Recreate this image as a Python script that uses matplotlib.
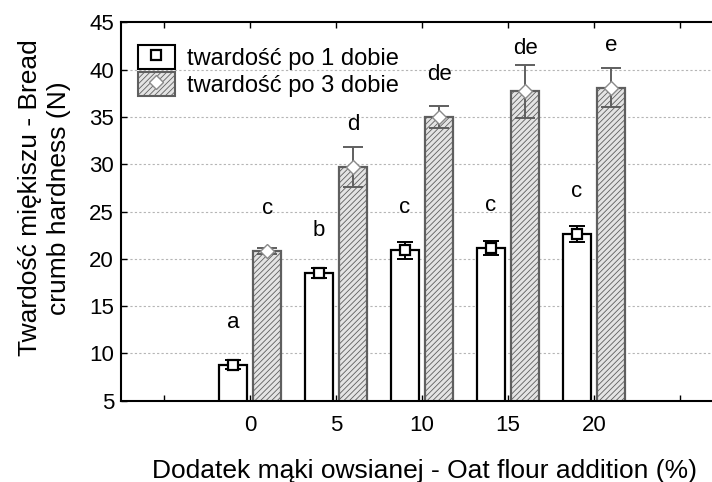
import numpy as np
import matplotlib
matplotlib.use("Agg")
import matplotlib.pyplot as plt
from matplotlib.patches import Patch
from matplotlib.lines import Line2D
from matplotlib.legend_handler import HandlerTuple

plt.rcParams['font.family'] = ['Liberation Sans', 'DejaVu Sans']

# dane
dodatek = [0, 5, 10, 15, 20]
dzien1 = [8.8, 18.5, 20.9, 21.1, 22.6]
dzien1_err = [0.5, 0.5, 0.9, 0.75, 0.85]
dzien3 = [20.8, 29.7, 35.0, 37.7, 38.1]
dzien3_err = [0.3, 2.1, 1.15, 2.8, 2.05]
litery1 = ['a', 'b', 'c', 'c', 'c']
litery3 = ['c', 'd', 'de', 'de', 'e']

x = np.array(dodatek, dtype=float)
szer = 1.65
sz = '#5f5f5f'

plt.rcParams['hatch.color'] = '#8a8a8a'
plt.rcParams['hatch.linewidth'] = 0.6

fig = plt.figure(figsize=(7.12, 4.82), dpi=100)
# os wychodzi poza prawa krawedz, jak w oryginale
ax = fig.add_axes([0.170, 0.1687, 0.906, 0.785])

ax.bar(x - 1.0, dzien1, width=szer, color='white', edgecolor='black',
       linewidth=1.6, zorder=2)
ax.bar(x + 1.0, dzien3, width=szer, color='#e4e4e4', edgecolor=sz,
       hatch='//////', linewidth=1.6, zorder=2)

ax.errorbar(x - 1.0, dzien1, yerr=dzien1_err, fmt='none', ecolor='black',
            elinewidth=1.4, capsize=6, capthick=1.4, zorder=3)
ax.errorbar(x + 1.0, dzien3, yerr=dzien3_err, fmt='none', ecolor=sz,
            elinewidth=1.4, capsize=7, capthick=1.4, zorder=3)
ax.plot(x - 1.0, dzien1, 's', ms=7, mfc='white', mec='black', mew=1.6,
        linestyle='none', zorder=4)
ax.plot(x + 1.0, dzien3, 'D', ms=7, mfc='white', mec='#8a8a8a', mew=1.0,
        linestyle='none', zorder=4)

for xi, v, t in zip(x - 1.0, dzien1, litery1):
    ax.text(xi, v + 4.5, t, ha='center', va='center', fontsize=16)
for xi, v, t in zip(x + 1.0, dzien3, litery3):
    ax.text(xi, v + 4.5, t, ha='center', va='center', fontsize=16)

ax.set_xlim(-7.5, 30)
ax.set_ylim(5, 45)
ax.set_yticks(np.arange(5, 46, 5))
ax.set_xticks(np.arange(-5, 30, 5))
ax.set_xticklabels(['' if (v < 0 or v > 20) else str(v) for v in range(-5, 30, 5)])
ax.tick_params(direction='in', length=4, width=1, labelsize=16, top=True,
               pad=10)
ax.tick_params(axis='y', pad=5)
for s in ax.spines.values():
    s.set_linewidth(1.5)

for yv in range(10, 45, 5):
    ax.axhline(yv, color='#b5b5b5', linestyle=(0, (2, 2)), linewidth=0.8, zorder=1)

ax.set_xlabel('Dodatek mąki owsianej - Oat flour addition (%)', fontsize=19)
ax.xaxis.set_label_coords(0.47, -0.155)
ax.set_ylabel('Twardość miękiszu - Bread\ncrumb hardness (N)', fontsize=19,
              linespacing=1.3)
ax.yaxis.set_label_coords(-0.077, 0.536)

h1 = (Patch(facecolor='white', edgecolor='black', linewidth=1.5),
      Line2D([], [], marker='s', ms=7, mfc='white', mec='black', mew=1.6, linestyle='none'))
h3 = (Patch(facecolor='#e4e4e4', edgecolor=sz, hatch='//////', linewidth=1.5),
      Line2D([], [], marker='D', ms=7, mfc='white', mec='#8a8a8a', mew=1.0, linestyle='none'))
ax.legend([h1, h3], ['twardość po 1 dobie', 'twardość po 3 dobie'],
          handler_map={tuple: HandlerTuple(ndivide=1, pad=0)},
          loc='upper left', bbox_to_anchor=(0.0, 0.985), frameon=False,
          fontsize=17, handlelength=1.6, handleheight=1.2, handletextpad=0.5,
          labelspacing=0.1, borderaxespad=0.3)

fig.savefig('out.png', dpi=100)
